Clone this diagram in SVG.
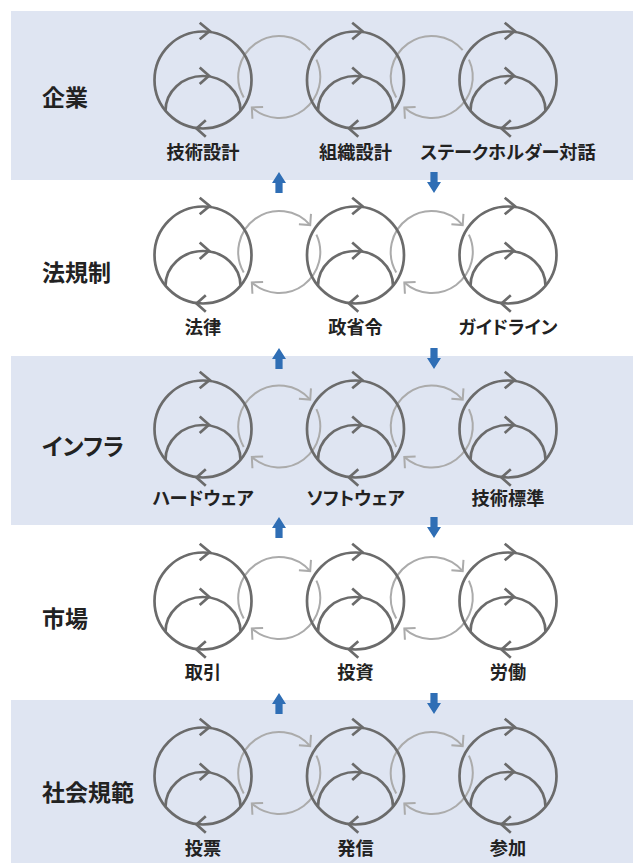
<svg xmlns="http://www.w3.org/2000/svg" xmlns:xlink="http://www.w3.org/1999/xlink" width="633" height="863" viewBox="0 0 633 863">
<style>
.band{fill:#dfe5f2}
.dk{fill:none;stroke:#6b6b6b;stroke-width:2.7;stroke-linecap:butt}
.gr{fill:none;stroke:#ababab;stroke-width:2}
.blue{fill:#2f6eb5}
.cat{font-family:"Noto Sans CJK JP","Noto Sans",sans-serif;font-size:23px;font-weight:700;fill:#222;font-feature-settings:"palt"}
.lbl{font-family:"Noto Sans CJK JP","Noto Sans",sans-serif;font-size:18.2px;font-weight:700;fill:#222;text-anchor:middle;font-feature-settings:"palt"}
</style>
<defs>
<marker id="ah" markerUnits="userSpaceOnUse" viewBox="-12 -12 24 24" markerWidth="24" markerHeight="24" refX="0" refY="0" orient="auto" overflow="visible">
<path d="M-8,-8 L0,0 L-8,8" fill="none" stroke="#ababab" stroke-width="2"/>
</marker>
<g id="cycle">
<circle class="dk" cx="0" cy="0" r="48.5"/>
<path class="dk" d="M-37.5,30.7 A37.5,34.7 0 0 1 37.5,30.7"/>
<path class="dk" d="M-3.3,-57.3 L6.7,-49 L-3.3,-40.7"/>
<path class="dk" d="M-3.3,-12.5 L6,-4.3 L-3.3,3.9"/>
<path class="dk" d="M2.8,40.3 L-6.5,48.5 L2.8,56.7"/>
</g>
<path id="arcA" class="gr" d="M37.16,-17.33 A41,41 0 0 1 -27.43,30.47" marker-end="url(#ah)"/>
<path id="arcB" class="gr" d="M-35.51,20.5 A41,41 0 0 1 30.94,-26.9" marker-end="url(#ah)"/>
<path id="arcB0" class="gr" d="M-35.51,20.5 A41,41 0 0 1 30.94,-26.9"/>
<path id="up" class="blue" d="M0,0 L7,11 L3.6,11 L3.6,21 L-3.6,21 L-3.6,11 L-7,11 Z"/>
<path id="down" class="blue" d="M0,21 L7,10 L3.6,10 L3.6,0 L-3.6,0 L-3.6,10 L-7,10 Z"/>
</defs>

<g id="bands">
<rect class="band" x="11" y="11" width="622" height="169"/>
<rect class="band" x="11" y="356" width="622" height="169"/>
<rect class="band" x="11" y="700" width="622" height="163"/>
</g>

<g id="connectors">
<g transform="translate(279.25,77)"><use xlink:href="#arcA"/><use xlink:href="#arcB0"/></g>
<g transform="translate(431.75,77)"><use xlink:href="#arcA"/><use xlink:href="#arcB0"/></g>
<g transform="translate(279.25,252)"><use xlink:href="#arcA"/><use xlink:href="#arcB"/></g>
<g transform="translate(431.75,252)"><use xlink:href="#arcA"/><use xlink:href="#arcB"/></g>
<g transform="translate(279.25,426.5)"><use xlink:href="#arcA"/><use xlink:href="#arcB"/></g>
<g transform="translate(431.75,426.5)"><use xlink:href="#arcA"/><use xlink:href="#arcB"/></g>
<g transform="translate(279.25,598)"><use xlink:href="#arcA"/><use xlink:href="#arcB"/></g>
<g transform="translate(431.75,598)"><use xlink:href="#arcA"/><use xlink:href="#arcB"/></g>
<g transform="translate(279.25,773)"><use xlink:href="#arcA"/><use xlink:href="#arcB"/></g>
<g transform="translate(431.75,773)"><use xlink:href="#arcA"/><use xlink:href="#arcB"/></g>
<use xlink:href="#up" x="279" y="172"/>
<use xlink:href="#down" x="434" y="172"/>
<use xlink:href="#up" x="279" y="348"/>
<use xlink:href="#down" x="434" y="348"/>
<use xlink:href="#up" x="279" y="517"/>
<use xlink:href="#down" x="434" y="517"/>
<use xlink:href="#up" x="279" y="693"/>
<use xlink:href="#down" x="434" y="693"/>
</g>

<g id="cat-kigyo"><text class="cat" x="42" y="106">企業</text></g>
<g id="n-gijutsusekkei"><use xlink:href="#cycle" x="203" y="80"/><text class="lbl" x="203" y="159">技術設計</text></g>
<g id="n-soshikisekkei"><use xlink:href="#cycle" x="355.5" y="80"/><text class="lbl" x="355.5" y="159">組織設計</text></g>
<g id="n-stakeholder"><use xlink:href="#cycle" x="508" y="80"/><text class="lbl" x="508" y="159">ステークホルダー対話</text></g>

<g id="cat-hokisei"><text class="cat" x="42" y="281">法規制</text></g>
<g id="n-horitsu"><use xlink:href="#cycle" x="203" y="255"/><text class="lbl" x="203" y="334">法律</text></g>
<g id="n-seishorei"><use xlink:href="#cycle" x="355.5" y="255"/><text class="lbl" x="355.5" y="334">政省令</text></g>
<g id="n-guideline"><use xlink:href="#cycle" x="508" y="255"/><text class="lbl" x="508" y="334">ガイドライン</text></g>

<g id="cat-infra"><text class="cat" x="42" y="455">インフラ</text></g>
<g id="n-hardware"><use xlink:href="#cycle" x="203" y="429"/><text class="lbl" x="203" y="505">ハードウェア</text></g>
<g id="n-software"><use xlink:href="#cycle" x="355.5" y="429"/><text class="lbl" x="355.5" y="505">ソフトウェア</text></g>
<g id="n-gijutsuhyojun"><use xlink:href="#cycle" x="508" y="429"/><text class="lbl" x="508" y="505">技術標準</text></g>

<g id="cat-shijo"><text class="cat" x="42" y="627">市場</text></g>
<g id="n-torihiki"><use xlink:href="#cycle" x="203" y="601"/><text class="lbl" x="203" y="679">取引</text></g>
<g id="n-toshi"><use xlink:href="#cycle" x="355.5" y="601"/><text class="lbl" x="355.5" y="679">投資</text></g>
<g id="n-rodo"><use xlink:href="#cycle" x="508" y="601"/><text class="lbl" x="508" y="679">労働</text></g>

<g id="cat-shakaikihan"><text class="cat" x="42" y="801">社会規範</text></g>
<g id="n-tohyo"><use xlink:href="#cycle" x="203" y="776"/><text class="lbl" x="203" y="855">投票</text></g>
<g id="n-hasshin"><use xlink:href="#cycle" x="355.5" y="776"/><text class="lbl" x="355.5" y="855">発信</text></g>
<g id="n-sanka"><use xlink:href="#cycle" x="508" y="776"/><text class="lbl" x="508" y="855">参加</text></g>
</svg>
